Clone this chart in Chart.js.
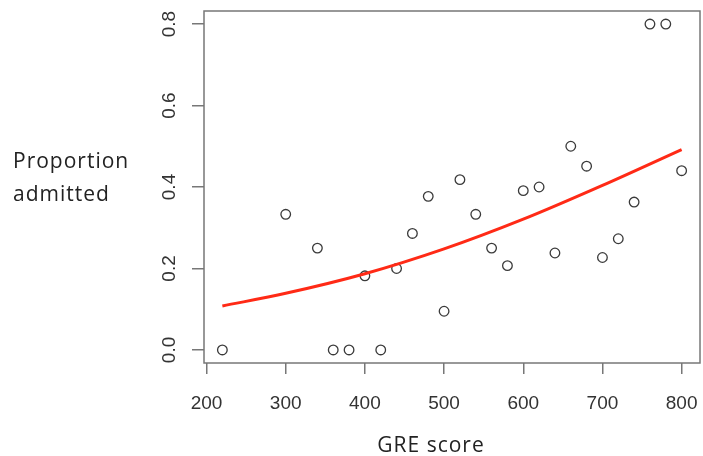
<!DOCTYPE html>
<html>
<head>
<meta charset="utf-8">
<script src="https://cdn.jsdelivr.net/npm/chart.js@4/dist/chart.umd.min.js"></script>
<style>
  html, body { margin: 0; padding: 0; background: #fff; }
  canvas { display: block; }
</style>
</head>
<body>
<canvas id="mycanvas" width="703" height="456"></canvas>
<script>
// observed proportion admitted at each GRE score
var greScore = [220, 300, 340, 360, 380, 400, 420, 440, 460, 480, 500, 520, 540,
                560, 580, 600, 620, 640, 660, 680, 700, 720, 740, 760, 780, 800];
var propAdmitted = [0, 0.333, 0.25, 0, 0, 0.182, 0, 0.2, 0.286, 0.377, 0.095, 0.418, 0.333,
                    0.25, 0.207, 0.391, 0.4, 0.238, 0.5, 0.451, 0.227, 0.273, 0.363, 0.8, 0.8, 0.44];

// fitted curve
var fitScore = [220, 300, 400, 500, 600, 700, 800];
var fitProp = [0.108, 0.139, 0.187, 0.248, 0.321, 0.404, 0.492];

var xTicks = [200, 300, 400, 500, 600, 700, 800];
var yTicks = [0, 0.2, 0.4, 0.6, 0.8];

var boxColor = '#777';
var tickFont = '"Liberation Sans", Arial, sans-serif';

// R-like frame: box, tick labels (y ones turned) and axis titles
var rStyle = {
	id: 'rStyle',
	afterDraw: function(chart) {
		var ctx = chart.ctx;
		var a = chart.chartArea;
		var x = chart.scales.x;
		var y = chart.scales.y;
		ctx.save();
		ctx.strokeStyle = boxColor;
		ctx.lineWidth = 1.5;
		ctx.strokeRect(a.left, a.top, a.right - a.left, a.bottom - a.top);

		ctx.fillStyle = '#333';
		ctx.font = '19px ' + tickFont;
		ctx.textAlign = 'center';
		ctx.textBaseline = 'alphabetic';
		xTicks.forEach(function(v) {
			ctx.fillText(String(v), x.getPixelForValue(v), 409);
		});
		yTicks.forEach(function(v) {
			ctx.save();
			ctx.translate(175, y.getPixelForValue(v));
			ctx.rotate(-Math.PI / 2);
			ctx.fillText(v.toFixed(1), 0, 0);
			ctx.restore();
		});

		ctx.fillStyle = '#222';
		ctx.font = '21px "Open Sans", Lato, sans-serif';
		ctx.letterSpacing = '1px';
		ctx.textAlign = 'left';
		ctx.fillText('Proportion', 13, 168);
		ctx.fillText('admitted', 13, 201);
		ctx.textAlign = 'center';
		ctx.fillText('GRE score', 431, 452);
		ctx.restore();
	}
};

var ctx = document.getElementById('mycanvas');
var myChart = new Chart(ctx, {
	type: 'scatter',
	data: {
		datasets: [{
			label: 'Proportion admitted',
			data: greScore.map(function(g, i) { return {x: g, y: propAdmitted[i]}; }),
			pointRadius: 4.8,
			pointBorderWidth: 1.3,
			borderColor: '#3a3a3a',
			backgroundColor: 'rgba(0,0,0,0)',
			order: 2
		}, {
			label: 'Fit',
			type: 'line',
			data: fitScore.map(function(g, i) { return {x: g, y: fitProp[i]}; }),
			borderColor: '#ff2a16',
			borderWidth: 3,
			pointRadius: 0,
			fill: false,
			cubicInterpolationMode: 'monotone',
			order: 1
		}]
	},
	options: {
		responsive: false,
		animation: false,
		devicePixelRatio: 1,
		layout: { autoPadding: false, padding: { top: 11, right: 3, left: 0, bottom: 0 } },
		plugins: {
			legend: { display: false },
			tooltip: { enabled: false }
		},
		scales: {
			x: {
				type: 'linear',
				min: 196.8,
				max: 823.2,
				afterBuildTicks: function(s) { s.ticks = xTicks.map(function(v) { return {value: v}; }); },
				afterFit: function(s) { s.height = 93; },
				border: { display: false },
				grid: { drawOnChartArea: false, drawTicks: true, tickLength: 11, color: boxColor, lineWidth: 1.5 },
				ticks: { display: false }
			},
			y: {
				type: 'linear',
				min: -0.032,
				max: 0.832,
				afterBuildTicks: function(s) { s.ticks = yTicks.map(function(v) { return {value: v}; }); },
				afterFit: function(s) { s.width = 204; },
				border: { display: false },
				grid: { drawOnChartArea: false, drawTicks: true, tickLength: 12, color: boxColor, lineWidth: 1.5 },
				ticks: { display: false }
			}
		}
	},
	plugins: [rStyle]
});
</script>
</body>
</html>
